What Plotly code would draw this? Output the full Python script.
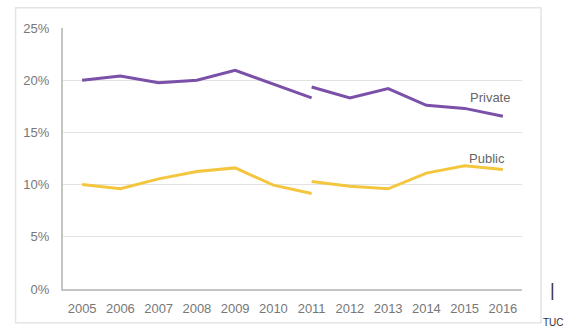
import plotly.graph_objects as go

years_a = [2005, 2006, 2007, 2008, 2009, 2010, 2011]
years_b = [2011, 2012, 2013, 2014, 2015, 2016]
private_a = [20.0, 20.4, 19.75, 20.0, 20.95, 19.65, 18.3]
private_b = [19.35, 18.3, 19.2, 17.6, 17.3, 16.55]
public_a = [10.0, 9.6, 10.55, 11.25, 11.6, 9.95, 9.15]
public_b = [10.3, 9.85, 9.6, 11.1, 11.8, 11.45]
tick_years = list(range(2005, 2017))
y_ticks = [0, 5, 10, 15, 20, 25]
y_labels = [f"{v}%" for v in y_ticks]

PURPLE = "#7A50A8"
YELLOW = "#F4C63E"
FONT = "Liberation Sans, Arial, sans-serif"

fig = go.Figure()
for xs, ys, c in [(years_a, private_a, PURPLE), (years_b, private_b, PURPLE),
                  (years_a, public_a, YELLOW), (years_b, public_b, YELLOW)]:
    fig.add_trace(go.Scatter(x=xs, y=ys, mode="lines",
                             line=dict(color=c, width=3), showlegend=False,
                             hoverinfo="skip"))

fig.update_layout(
    width=570, height=330,
    margin=dict(l=62.5, r=48, t=28, b=41),
    paper_bgcolor="white", plot_bgcolor="white",
    font=dict(family=FONT, size=13, color="#777777"),
    showlegend=False,
)
fig.update_xaxes(
    range=[2004.5, 2016.5], tickvals=tick_years, ticktext=[str(y) for y in tick_years],
    showgrid=False, zeroline=False, showline=True, linecolor="#c4c4c4", linewidth=2,
    ticks="", ticklabelstandoff=6, tickfont=dict(size=13, color="#777777"),
)
fig.update_yaxes(
    range=[0, 25], tickvals=y_ticks, ticktext=y_labels,
    showgrid=True, gridcolor="#e2e2e2", gridwidth=1, zeroline=False,
    showline=True, linecolor="#c4c4c4", linewidth=2,
    ticks="", ticklabelstandoff=9, tickfont=dict(size=13, color="#777777"),
)

fig.add_annotation(x=2015.66, y=18.3, text="Private", showarrow=False,
                   font=dict(size=13, color="#666666"), xanchor="center", yanchor="middle")
fig.add_annotation(x=2015.58, y=12.5, text="Public", showarrow=False,
                   font=dict(size=13, color="#666666"), xanchor="center", yanchor="middle")

# outer frame of the original graphic (paper coords relative to plot area)
pw = 522 - 62.5
ph = 289.3 - 28.3
def px(x):
    return (x - 62.5) / pw
def py(y):
    return (289.3 - y) / ph
fig.add_shape(type="rect", xref="paper", yref="paper",
              x0=px(15), x1=px(541), y0=py(323), y1=py(8),
              line=dict(color="#e4e4e4", width=1.5), layer="below")

fig.add_annotation(xref="paper", yref="paper", x=px(553), y=py(290), text="|",
                   showarrow=False, font=dict(size=18, color="#333333"),
                   xanchor="center", yanchor="middle")
fig.add_annotation(xref="paper", yref="paper", x=px(554), y=py(323), text="TUC",
                   showarrow=False, font=dict(size=10, color="#333333"),
                   xanchor="center", yanchor="middle")

fig.write_html("out.html")
